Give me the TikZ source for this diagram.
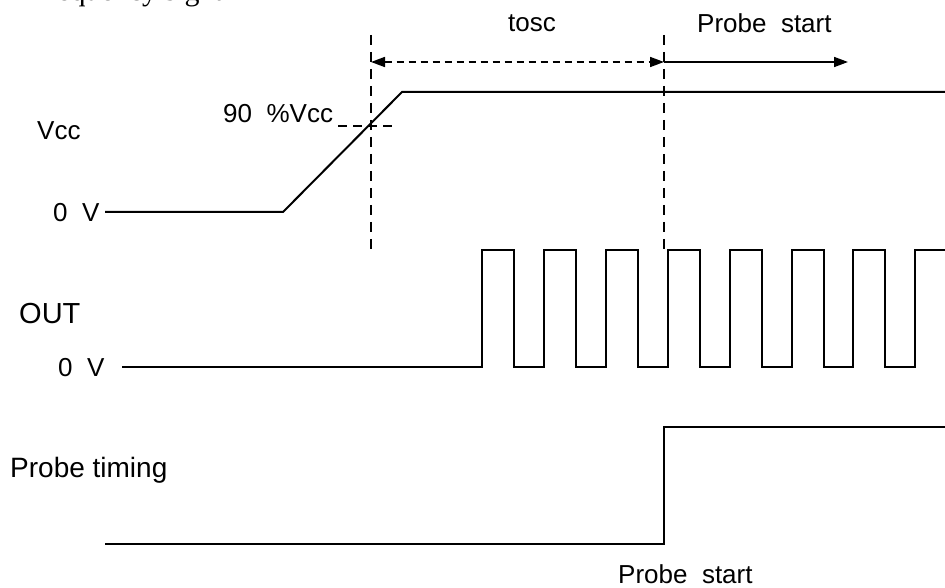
\documentclass[tikz,border=0pt]{standalone}
\usepackage{fontspec}
\setmainfont{Liberation Sans}
\newfontfamily\bodyserif{Liberation Serif}
\usetikzlibrary{arrows.meta,positioning}

\begin{document}
\begin{tikzpicture}[
    x=1pt, y=-1pt,
    >={Triangle[length=14pt, width=10pt]},
    wave/.style={line width=2pt, line join=miter},
    guide/.style={line width=1.7pt, dash pattern=on 10pt off 7pt},
    spanarrow/.style={line width=1.7pt, dash pattern=on 7pt off 5pt},
    lbl/.style={anchor=base west, inner sep=0pt, font=\fontsize{26}{30}\selectfont},
    biglbl/.style={lbl, font=\fontsize{29}{33}\selectfont},
]
\useasboundingbox (0,0) rectangle (945,588);

% cut-off line of the page text above
\node[anchor=base west, inner sep=0pt, font=\bodyserif\fontsize{30}{34}\selectfont]
    (pagetext) at (37,0.5) {frequency signal};

% signal names
\node[lbl] (vcc) at (37,140) {Vcc};
\node[lbl] (vzero) at (53,222) {0\ \ V};
\node[biglbl] (out) at (19,323) {OUT};
\node[lbl] (outzero) at (58,376) {0\ \ V};
\node[biglbl, font=\fontsize{28}{32}\selectfont] (probe) at (10,477) {Probe timing};

% Vcc ramp
\coordinate (vstart) at (105,212);
\coordinate (rampfoot) at (283,212);
\coordinate (ramptop) at (402,92);
\coordinate (vend) at (945,92);
\draw[wave] (vstart) -- (rampfoot) -- (ramptop) -- (vend);

% 90 % level and timing marks
\node[lbl] (ninety) at (223,123) {90\ \ \%Vcc};
\coordinate (lvlA) at (338,126);
\coordinate (lvlB) at (393,126);
\draw[guide, dash pattern=on 9pt off 6pt] (lvlA) -- (lvlB);
\coordinate (markAtop) at (371,35);
\coordinate (markAbot) at (371,250);
\coordinate (markBtop) at (664,35);
\coordinate (markBbot) at (664,250);
\draw[guide] (markAtop) -- (markAbot);
\draw[guide] (markBtop) -- (markBbot);

\coordinate (tA) at (371,62);
\coordinate (tB) at (664,62);
\coordinate (tC) at (848,62);
\draw[spanarrow, <->] (tA) -- (tB);
\draw[line width=1.7pt, ->] (tB) -- (tC);
\node[lbl] (tosc) at (508,32) {tosc};
\node[lbl] (startA) at (697,33) {Probe\ \ start};

% OUT clock
\coordinate (ostart) at (122,367);
\draw[wave] (ostart)
    \foreach \i in {0,...,6} {
        -- ({482+61.9*\i},367) -- ++(0,-117) -- ++(32,0) -- ++(0,117)
    }
    -- (915,367) -- (915,250) -- (945,250);

% probe timing step
\coordinate (pstart) at (105,544);
\coordinate (pstep) at (664,544);
\coordinate (phigh) at (664,427);
\coordinate (pend) at (945,427);
\draw[wave] (pstart) -- (pstep) -- (phigh) -- (pend);
\node[lbl] (startB) at (618,583) {Probe\ \ start};
\end{tikzpicture}
\end{document}
